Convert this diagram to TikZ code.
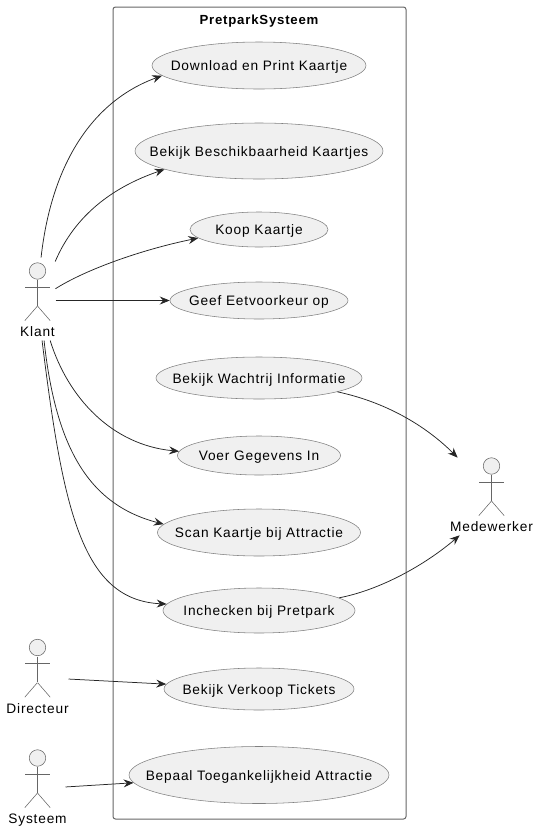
\documentclass[tikz,border=0pt]{standalone}
\usepackage{fontspec}
\setmainfont[LetterSpace=6]{Liberation Sans}
\usetikzlibrary{arrows.meta,shapes.geometric}
\newcommand{\uctext}[1]{\makebox[0pt][c]{#1}}

\begin{document}
\begin{tikzpicture}
[
                  x =  1pt,
                  y = -1pt,
           >= {Stealth[length=10pt,width=8pt,inset=3.5pt]},
       conn/.style = { ->, draw=black!85, line width=0.75pt },
    usecase/.style = { draw=black!50, fill=black!6, ellipse, inner sep=0pt, line width=0.55pt, text height=10pt, text depth=0pt, font=\fontsize{13.7pt}{16pt}\selectfont },
      limb/.style = { draw=black!60, line width=0.55pt },
      head/.style = { draw=black!60, fill=black!6, circle, inner sep=0pt, minimum size=16.5pt, line width=0.55pt },
     caption/.style = { draw=none, fill=none, text height=10pt, text depth=0pt, font=\fontsize{13.7pt}{16pt}\selectfont },
       frame/.style = { draw=black!60, line width=1pt, rounded corners=2.5pt },
  coordinate/.style = { draw=none, fill=none, circle, inner sep=0pt, outer sep=0pt }
]

    \useasboundingbox (0,0) rectangle (540,831);

    % system frame
    \node (FrameTL) at (113,7)   [coordinate] {};
    \node (FrameBR) at (406,819) [coordinate] {};
    \draw[frame] (FrameTL) rectangle (FrameBR);
    \node (Title) at (259,19) [caption] {\fontsize{13.2pt}{16pt}\selectfont\bfseries PretparkSysteem};

    % use cases
    \node (Download)  at (259,65.5)  [usecase, minimum width=214pt, minimum height=47pt] {\uctext{Download en Print Kaartje}};
    \node (Beschik)   at (259,151)   [usecase, minimum width=248pt, minimum height=56pt] {\uctext{Bekijk Beschikbaarheid Kaartjes}};
    \node (Koop)      at (259,229.5) [usecase, minimum width=138pt, minimum height=35pt] {\uctext{Koop Kaartje}};
    \node (Eetvoorkeur) at (259,300.5) [usecase, minimum width=178pt, minimum height=37pt] {\uctext{Geef Eetvoorkeur op}};
    \node (Wachtrij)  at (259,378)   [usecase, minimum width=206pt, minimum height=42pt] {\uctext{Bekijk Wachtrij Informatie}};
    \node (Gegevens)  at (259,455.5) [usecase, minimum width=163pt, minimum height=39pt] {\uctext{Voer Gegevens In}};
    \node (Scan)      at (259,532.5) [usecase, minimum width=203pt, minimum height=47pt] {\uctext{Scan Kaartje bij Attractie}};
    \node (Inchecken) at (259,610.5) [usecase, minimum width=192pt, minimum height=45pt] {\uctext{Inchecken bij Pretpark}};
    \node (Verkoop)   at (259,689)   [usecase, minimum width=190pt, minimum height=42pt] {\uctext{Bekijk Verkoop Tickets}};
    \node (Toegang)   at (259,775)   [usecase, minimum width=260pt, minimum height=57pt] {\uctext{Bepaal Toegankelijkheid Attractie}};

    % actors
    \foreach \name/\xx/\yy/\txt in {Klant/37.5/271/Klant, Medewerker/491.5/466/Medewerker, Directeur/37.5/647.5/Directeur, Systeem/37.5/758/Systeem}
    {
        \node (\name Head) at (\xx,\yy) [head] {};
        \node (\name Neck) at (\xx,\yy+8.5)  [coordinate] {};
        \node (\name Hip)  at (\xx,\yy+35)   [coordinate] {};
        \node (\name ArmL) at (\xx-13,\yy+16) [coordinate] {};
        \node (\name ArmR) at (\xx+13,\yy+16) [coordinate] {};
        \node (\name LegL) at (\xx-13,\yy+50) [coordinate] {};
        \node (\name LegR) at (\xx+13,\yy+50) [coordinate] {};
        \draw[limb] (\name Neck) -- (\name Hip);
        \draw[limb] (\name ArmL) -- (\name ArmR);
        \draw[limb] (\name LegL) -- (\name Hip) -- (\name LegR);
        \node (\name Label) at (\xx,\yy+60.5) [caption] {\txt};
    }

    % free ends beside the actors
    \node (KlantA)  at (41,258)  [coordinate] {};
    \node (KlantB)  at (55,262)  [coordinate] {};
    \node (KlantC)  at (55,289)  [coordinate] {};
    \node (KlantD)  at (55,300.5) [coordinate] {};
    \node (KlantE)  at (50,340)  [coordinate] {};
    \node (KlantF)  at (44,340)  [coordinate] {};
    \node (KlantG)  at (42,340)  [coordinate] {};
    \node (DirecteurOut) at (68,679) [coordinate] {};
    \node (SysteemOut)   at (65,787) [coordinate] {};
    \node (MedewerkerA)  at (458,458) [coordinate] {};
    \node (MedewerkerB)  at (460,535) [coordinate] {};

    \draw[conn] (KlantA) .. controls (52,160) and (95,100) .. (Download.186);
    \draw[conn] (KlantB) .. controls (75,215) and (113,187) .. (Beschik.191);
    \draw[conn] (KlantC) .. controls (85,270) and (140,250) .. (Koop.188);
    \draw[conn] (KlantD) -- (Eetvoorkeur);
    \draw[conn] (KlantE) .. controls (68,398) and (112,445) .. (Gegevens.177);
    \draw[conn] (KlantF) .. controls (56,450) and (90,505) .. (Scan.175);
    \draw[conn] (KlantG) .. controls (63,510) and (82,600) .. (Inchecken.176);
    \draw[conn] (DirecteurOut) -- (Verkoop);
    \draw[conn] (SysteemOut) -- (Toegang);
    \draw[conn] (Wachtrij.-10) .. controls (385,402) and (425,425) .. (MedewerkerA);
    \draw[conn] (Inchecken.9) .. controls (380,590) and (425,565) .. (MedewerkerB);

\end{tikzpicture}
\end{document}
